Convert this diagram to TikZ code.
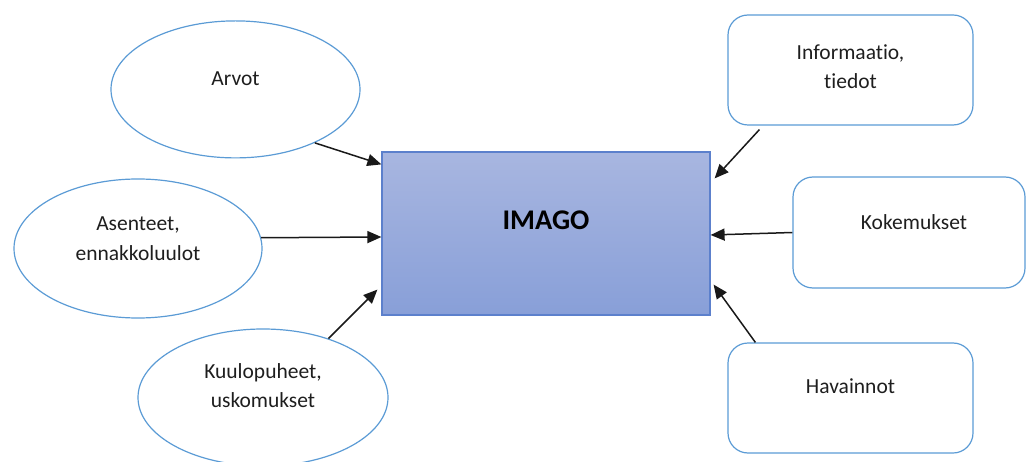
\documentclass[tikz,border=0pt]{standalone}
\usepackage{fontspec}
\setmainfont{Carlito}[Ligatures={NoCommon}]
\usetikzlibrary{arrows.meta,shapes.geometric}

\definecolor{edgeblue}{RGB}{91,155,213}
\definecolor{rectedge}{RGB}{92,128,204}
\definecolor{recttop}{RGB}{168,182,224}
\definecolor{rectbot}{RGB}{136,159,216}
\definecolor{inktext}{RGB}{30,30,30}

% keep t and i as separate glyphs
\newcommand{\tisep}{t\kern0pt i}

\tikzset{
  oval/.style={draw=edgeblue, line width=1.2pt, ellipse, inner sep=0pt,
    minimum width=249pt, minimum height=137pt},
  roundbox/.style={draw=edgeblue, line width=1.2pt, rectangle, rounded corners=20pt,
    inner sep=0pt},
  txt/.style={text=inktext, align=center, inner sep=0pt,
    font=\fontsize{21.5}{29.5}\selectfont},
  core/.style={draw=rectedge, line width=1.2pt, rectangle, inner sep=0pt,
    top color=recttop, bottom color=rectbot,
    minimum width=328pt, minimum height=163pt},
  feed/.style={draw=black!90, line width=1.5pt,
    -{Triangle[length=14pt,width=12pt]}},
}

\begin{document}
\begin{tikzpicture}[x=1pt,y=-1pt]
  \useasboundingbox (0,0) rectangle (1027,462);
  \clip (0,0) rectangle (1027,462);

  % central concept
  \node[core, label={[yshift=13pt,inner sep=0pt,text=black,
      font=\fontsize{28.5}{34}\selectfont\bfseries]center:IMAGO}]
    (imago) at (546,233.5) {};

  % sources on the left
  \node[oval, label={[txt,yshift=11pt]center:Arvot}]
    (arvot) at (235.5,89.4) {};
  \node[oval, minimum width=248pt, minimum height=139pt,
      label={[txt,yshift=10pt]center:{Asenteet,\\ennakkoluulot}}]
    (asenteet) at (138,248.5) {};
  \node[oval, minimum width=250pt,
      label={[txt,yshift=12pt]center:{Kuulopuheet,\\uskomukset}}]
    (kuulo) at (263,397.5) {};

  % sources on the right
  \node[roundbox, minimum width=245pt, minimum height=110pt,
      label={[txt,yshift=3.5pt]center:{Informaa\tisep o,\\\tisep edot}}]
    (info) at (850.5,70) {};
  \node[roundbox, minimum width=232pt, minimum height=111pt,
      label={[txt,xshift=5pt,yshift=10pt]center:Kokemukset}]
    (koke) at (909,232.5) {};
  \node[roundbox, minimum width=245pt, minimum height=110pt,
      label={[txt,yshift=11.5pt]center:Havainnot}]
    (hav) at (850.5,398) {};

  % influences pointing to the image
  \draw[feed] (arvot.-34.7) -- ([yshift=-13pt]imago.north west);
  \draw[feed] (asenteet.5) -- ([yshift=-3.5pt]imago.west);
  \draw[feed] (kuulo.42.4) -- ([xshift=-4pt,yshift=26pt]imago.south west);
  \draw[feed] ([xshift=32pt,yshift=-4pt]info.south west) -- ([xshift=4pt,yshift=-27pt]imago.north east);
  \draw[feed] (koke.west) -- ([yshift=-1.5pt]imago.east);
  \draw[feed] ([xshift=28pt]hav.north west) -- ([xshift=3pt,yshift=31pt]imago.south east);
\end{tikzpicture}
\end{document}
